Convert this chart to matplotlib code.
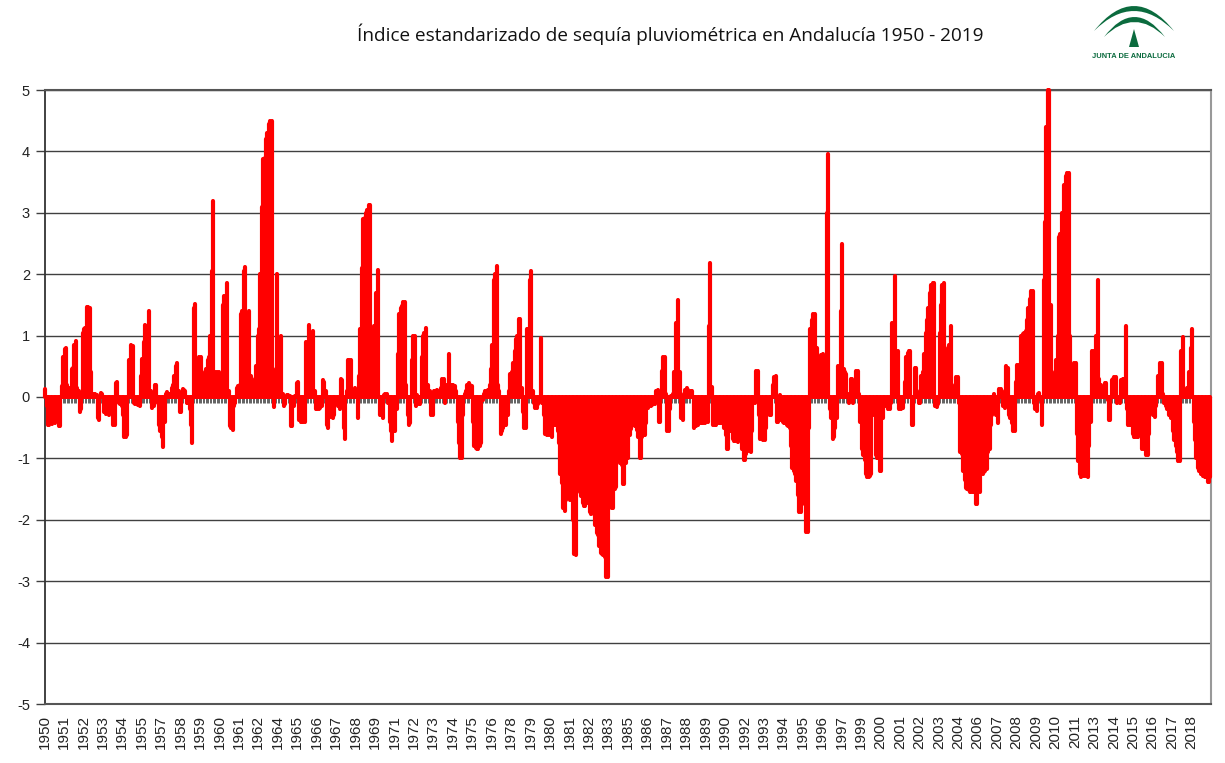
import numpy as np
import matplotlib
matplotlib.use('Agg')
import matplotlib.pyplot as plt
from matplotlib.patches import PathPatch, Polygon
from matplotlib.path import Path

plt.rcParams['font.family'] = ['Liberation Sans', 'DejaVu Sans']
plt.rcParams['axes.unicode_minus'] = False

TITLE = 'Índice estandarizado de sequía pluviométrica en Andalucía 1950 - 2019'

year_labels = ['1950', '1951', '1952', '1953', '1954', '1955', '1957', '1958', '1959', '1960',
               '1961', '1962', '1964', '1965', '1966', '1967', '1968', '1969', '1971', '1972',
               '1973', '1974', '1975', '1976', '1978', '1979', '1980', '1981', '1982', '1983',
               '1985', '1986', '1987', '1988', '1989', '1990', '1992', '1993', '1994', '1995',
               '1996', '1997', '1999', '2000', '2001', '2002', '2003', '2004', '2006', '2007',
               '2008', '2009', '2010', '2011', '2013', '2014', '2015', '2016', '2017', '2018']

# monthly index values, one row per year
y1950s = [
    0.13, -0.15, -0.45, -0.45, -0.42, -0.44, -0.4, -0.42, -0.3, -0.35, -0.47, -0.47,
    0.18, 0.65, 0.78, 0.8, 0.2, 0.15, 0.12, 0.45, 0.47, 0.85, 0.92, 0.15,
    0.1, -0.25, -0.2, 1.05, 1.1, 1.12, 1.47, 1.47, 1.45, 0.4, 0.05, 0.05,
    0.05, 0.03, -0.35, -0.38, 0.07, 0.05, -0.25, -0.25, -0.27, -0.15, -0.3, -0.2,
    -0.2, -0.46, -0.45, 0.22, 0.25, -0.1, -0.12, -0.15, -0.3, -0.65, -0.65, -0.62,
    0.6, 0.6, 0.85, 0.83, -0.1, -0.12, -0.12, -0.13, -0.15, 0.35, 0.62, 0.9,
    1.17, 1.15, 1.1, 1.4, 0.1, -0.18, -0.15, 0.2, 0.2, -0.1, -0.45, -0.55,
    -0.65, -0.82, -0.4, 0.05, 0.08, 0.05, 0.05, 0.15, 0.2, 0.35, 0.5, 0.55,
    0.1, -0.25, -0.25, 0.13, 0.12, 0.1, -0.1, -0.1, -0.2, -0.45, -0.75, 1.45,
    1.52, 0.1, 0.55, 0.65, 0.65, 0.1, 0.3, 0.4, 0.45, 0.6, 0.65, 1.0,
]
y1960s = [
    2.05, 3.2, 0.4, 0.3, 0.4, 0.4, 0.15, 0.1, 1.5, 1.65, 1.65, 1.85,
    0.1, -0.48, -0.5, -0.53, -0.15, -0.1, 0.15, 0.18, 0.2, 1.35, 1.4, 2.05,
    2.12, 0.3, 0.3, 1.4, 0.35, 0.3, 0.2, 0.15, 0.5, 1.0, 1.1, 2.0,
    3.1, 3.88, 3.9, 4.2, 4.3, 4.45, 4.5, 4.5, 0.45, -0.17, 0.05, 2.0,
    0.1, 0.1, 1.0, 0.05, -0.15, -0.12, 0.03, 0.03, 0.02, -0.48, -0.48, -0.15,
    0.02, 0.23, 0.24, -0.38, -0.4, -0.4, -0.4, -0.4, 0.9, 0.9, 1.17, 0.4,
    0.3, 1.08, 0.1, -0.2, -0.2, -0.2, -0.18, -0.15, 0.27, 0.25, 0.1, -0.45,
    -0.5, -0.2, -0.33, -0.35, -0.3, -0.1, -0.1, -0.15, -0.2, 0.3, 0.28, -0.5,
    -0.68, 0.1, 0.6, 0.6, 0.6, 0.12, 0.1, 0.15, 0.12, -0.35, 0.35, 1.1,
    2.1, 2.9, 2.92, 3.0, 3.05, 3.12, 3.12, 0.65, 0.6, 1.15, 1.7, 1.7,
]
y1970s = [
    2.07, -0.3, -0.3, -0.35, 0.03, 0.05, 0.05, -0.1, -0.4, -0.55, -0.72, -0.55,
    -0.55, -0.2, 0.7, 1.35, 1.45, 1.48, 1.55, 1.55, 0.2, -0.3, -0.45, -0.42,
    0.6, 1.0, 1.0, -0.15, 0.03, -0.12, -0.12, 0.65, 1.0, 1.05, 1.13, 0.2,
    0.2, 0.1, -0.3, -0.3, 0.1, 0.1, 0.12, 0.1, 0.1, 0.15, 0.3, 0.3,
    -0.1, 0.2, 0.2, 0.7, 0.2, 0.2, 0.2, 0.18, 0.1, -0.4, -0.75, -1.0,
    -1.0, -0.3, 0.05, 0.1, 0.2, 0.22, 0.2, 0.18, -0.4, -0.8, -0.83, -0.85,
    -0.85, -0.8, -0.75, -0.05, 0.05, 0.1, 0.1, 0.12, 0.2, 0.45, 0.85, 1.9,
    2.0, 2.13, 0.2, 0.1, -0.6, -0.55, -0.5, -0.45, -0.45, -0.3, 0.1, 0.38,
    0.4, 0.55, 0.75, 0.95, 1.0, 1.27, 1.27, 0.15, -0.25, -0.5, -0.5, 1.1,
    1.1, 1.9, 2.05, 0.1, -0.1, -0.18, -0.18, -0.12, -0.05, 0.96, -0.1, -0.3,
]
y1980s = [
    -0.6, -0.62, -0.6, -0.62, -0.62, -0.65, -0.45, -0.45, -0.45, -0.55, -0.75, -1.25,
    -1.4, -1.8, -1.85, -1.68, -1.65, -1.65, -1.68, -1.65, -2.0, -2.55, -2.57, -1.55,
    -1.48, -1.5, -1.62, -1.72, -1.78, -1.78, -1.62, -1.72, -1.88, -1.9, -1.55, -1.9,
    -2.08, -2.22, -2.25, -2.43, -2.54, -2.56, -2.57, -2.6, -2.93, -2.93, -1.8, -1.65,
    -1.8, -1.8, -1.5, -1.47, -1.05, -1.05, -1.08, -1.1, -1.42, -1.42, -1.08, -1.0,
    -1.0, -0.62, -0.52, -0.45, -0.45, -0.47, -0.53, -0.65, -1.0, -1.0, -0.65, -0.62,
    -0.62, -0.42, -0.18, -0.15, -0.15, -0.13, -0.12, -0.12, 0.1, 0.12, -0.4, -0.4,
    0.42, 0.65, 0.65, 0.05, -0.55, -0.55, -0.2, 0.02, 0.05, 0.4, 1.2, 1.2,
    1.58, 0.4, -0.35, -0.37, 0.05, 0.12, 0.14, 0.12, 0.05, 0.1, 0.1, -0.5,
    -0.48, -0.47, -0.45, -0.43, -0.42, -0.43, -0.43, -0.42, -0.4, -0.4, 1.15, 2.18,
]
y1990s = [
    0.17, -0.45, -0.45, -0.45, -0.42, -0.43, -0.43, -0.43, -0.42, -0.5, -0.62, -0.85,
    -0.85, -0.55, -0.55, -0.68, -0.72, -0.72, -0.72, -0.73, -0.58, -0.6, -0.85, -1.03,
    -1.03, -0.93, -0.6, -0.88, -0.9, -0.55, -0.1, -0.1, 0.42, 0.42, -0.3, -0.68,
    -0.68, -0.7, -0.7, -0.5, -0.3, -0.25, -0.3, -0.3, 0.2, 0.33, 0.35, -0.4,
    -0.4, 0.03, -0.38, -0.4, -0.43, -0.43, -0.45, -0.48, -0.5, -0.8, -1.15, -1.2,
    -1.25, -1.37, -1.6, -1.88, -1.88, -1.75, -1.72, -1.75, -2.2, -2.2, -0.5, 1.1,
    1.25, 1.35, 1.35, 0.8, 0.8, 0.1, 0.15, 0.68, 0.7, 0.05, 0.05, 3.0,
    3.95, -0.2, -0.35, -0.68, -0.65, -0.5, -0.35, 0.5, 0.5, 1.4, 2.5, 0.45,
    0.4, 0.38, 0.05, -0.1, 0.3, 0.3, -0.1, 0.1, 0.43, 0.43, 0.05, -0.4,
    -0.85, -0.95, -1.02, -1.25, -1.3, -1.3, -1.28, -1.25, -0.3, -0.25, -0.95, -1.0,
]
y2000s = [
    -1.0, -1.2, -1.2, -0.35, -0.02, -0.15, -0.15, -0.2, -0.2, -0.1, 1.2, 1.2,
    1.97, 0.75, 0.75, -0.2, -0.2, -0.18, -0.18, 0.25, 0.65, 0.72, 0.75, 0.75,
    -0.45, -0.45, 0.48, 0.48, 0.1, -0.1, -0.1, 0.35, 0.4, 0.7, 1.05, 1.25,
    1.45, 1.7, 1.83, 1.85, 1.85, -0.15, -0.17, -0.12, 1.05, 1.5, 1.83, 1.85,
    0.6, 0.7, 0.8, 0.85, 1.15, 0.2, 0.1, 0.12, 0.32, 0.32, -0.1, -0.9,
    -0.93, -1.2, -1.35, -1.48, -1.5, -1.52, -1.55, -1.55, -1.55, -1.55, -1.75, -1.75,
    -1.5, -1.55, -1.25, -1.25, -1.22, -1.2, -1.18, -0.9, -0.85, -0.45, -0.3, 0.05,
    -0.15, -0.3, -0.42, 0.13, 0.13, 0.1, -0.15, -0.18, 0.5, 0.48, -0.3, -0.35,
    -0.42, -0.55, -0.55, 0.25, 0.52, 0.52, 0.5, 1.0, 1.03, 1.05, 1.07, 1.25,
    1.45, 1.6, 1.73, 1.73, -0.1, -0.2, -0.22, 0.05, 0.07, -0.05, -0.45, 1.9,
]
y2010s = [
    2.85, 4.4, 5.0, 5.0, 1.5, 0.25, 0.3, 0.4, 0.6, 1.0, 2.6, 2.65,
    3.0, 3.0, 3.45, 3.6, 3.65, 3.65, 1.0, 0.25, 0.15, 0.55, 0.55, -0.6,
    -1.05, -1.25, -1.3, -1.28, -1.15, -1.28, -1.28, -1.3, -0.8, -0.4, 0.75, 0.75,
    0.2, 1.0, 1.9, 0.3, 0.2, 0.12, 0.05, 0.22, 0.22, -0.05, -0.38, -0.38,
    0.28, 0.3, 0.33, 0.33, -0.1, -0.05, -0.1, 0.28, 0.3, 0.3, 1.15, -0.2,
    -0.45, -0.45, -0.45, -0.6, -0.65, -0.65, -0.65, -0.65, -0.3, -0.25, -0.85, -0.85,
    -0.85, -0.95, -0.95, -0.6, -0.15, -0.1, -0.3, -0.32, -0.15, 0.35, 0.35, 0.55,
    0.55, 0.05, -0.1, -0.15, -0.2, -0.3, -0.3, -0.35, -0.55, -0.7, -0.8, -0.9,
    -1.05, -1.05, 0.75, 0.97, 0.1, 0.12, 0.15, 0.1, 0.4, 0.8, 1.1, -0.4,
    -0.7, -1.0, -1.15, -1.2, -1.25, -1.25, -1.28, -1.3, -1.3, -1.38, -1.38, -1.3,
]

values = np.array(y1950s + y1960s + y1970s + y1980s + y1990s + y2000s + y2010s)
months = np.arange(len(values))

W, H = 1225, 763
fig = plt.figure(figsize=(W / 100, H / 100), dpi=100, facecolor='white')
ax = fig.add_axes([44.5 / W, 1 - 704 / H, (1211 - 44.5) / W, (704 - 90) / H])

# horizontal grid under everything
ax.set_axisbelow(True)
ax.grid(axis='y', color='#404040', lw=1.0)

# one thick rounded bar per month, the tallest ones poke through the frame
ax.vlines(months + 0.5, 0, values, color='#ff0000', lw=3.0, capstyle='round', zorder=4, clip_on=False)

ax.set_xlim(0, len(values))
ax.set_ylim(-5, 5)
ax.set_yticks(range(-5, 6))
ax.tick_params(axis='y', length=6.5, width=1.0, color='#404040', labelsize=10.5, labelcolor='#222222', pad=4)
ax.set_xticks(np.arange(len(year_labels)) * 14)
ax.set_xticklabels(year_labels, rotation=90, fontsize=11, color='#222222')
ax.tick_params(axis='x', length=0, pad=8)

for side, col, lw in [('left', '#333333', 1.3), ('bottom', '#555555', 1.5),
                      ('top', '#555555', 1.5), ('right', '#999999', 1.5)]:
    ax.spines[side].set_color(col)
    ax.spines[side].set_linewidth(lw)

# zero axis with its little monthly ticks, hanging below the line
zero_axis = ax.secondary_xaxis(0.5)
zero_axis.set_xticks(months)
zero_axis.set_xticklabels([])
zero_axis.tick_params(axis='x', direction='in', length=4.5, width=0.5, color='#222222')
zero_axis.spines['bottom'].set_visible(False)
zero_axis.set_zorder(1)
ax.patch.set_alpha(0)

fig.text(670 / W, 1 - 34 / H, TITLE, ha='center', va='center', fontsize=13.7,
         color='#111111', family='Open Sans')

# logo of the Junta, drawn in pixel coordinates
logo = fig.add_axes([0, 0, 1, 1], facecolor='none')
logo.set_xlim(0, W)
logo.set_ylim(H, 0)
logo.axis('off')
GREEN = '#0b6b3e'


def arc(x0, x1, y_end, c_top, c_bottom):
    xm = (x0 + x1) / 2
    verts = [(x0, y_end), (xm, c_top), (x1, y_end), (xm, c_bottom), (x0, y_end), (x0, y_end)]
    codes = [Path.MOVETO, Path.CURVE3, Path.CURVE3, Path.CURVE3, Path.CURVE3, Path.CLOSEPOLY]
    logo.add_patch(PathPatch(Path(verts, codes), facecolor=GREEN, edgecolor='none'))


arc(1094, 1174, 31, -19, -9)
arc(1104, 1165, 37, -3, 7)
logo.add_patch(Polygon([(1134, 29), (1129, 47), (1139, 47)], facecolor=GREEN, edgecolor='none'))
logo.text(1134, 57, 'JUNTA DE ANDALUCIA', ha='center', va='center', fontsize=5.4,
          color=GREEN, fontweight='bold')

fig.savefig('out.png', dpi=100)
